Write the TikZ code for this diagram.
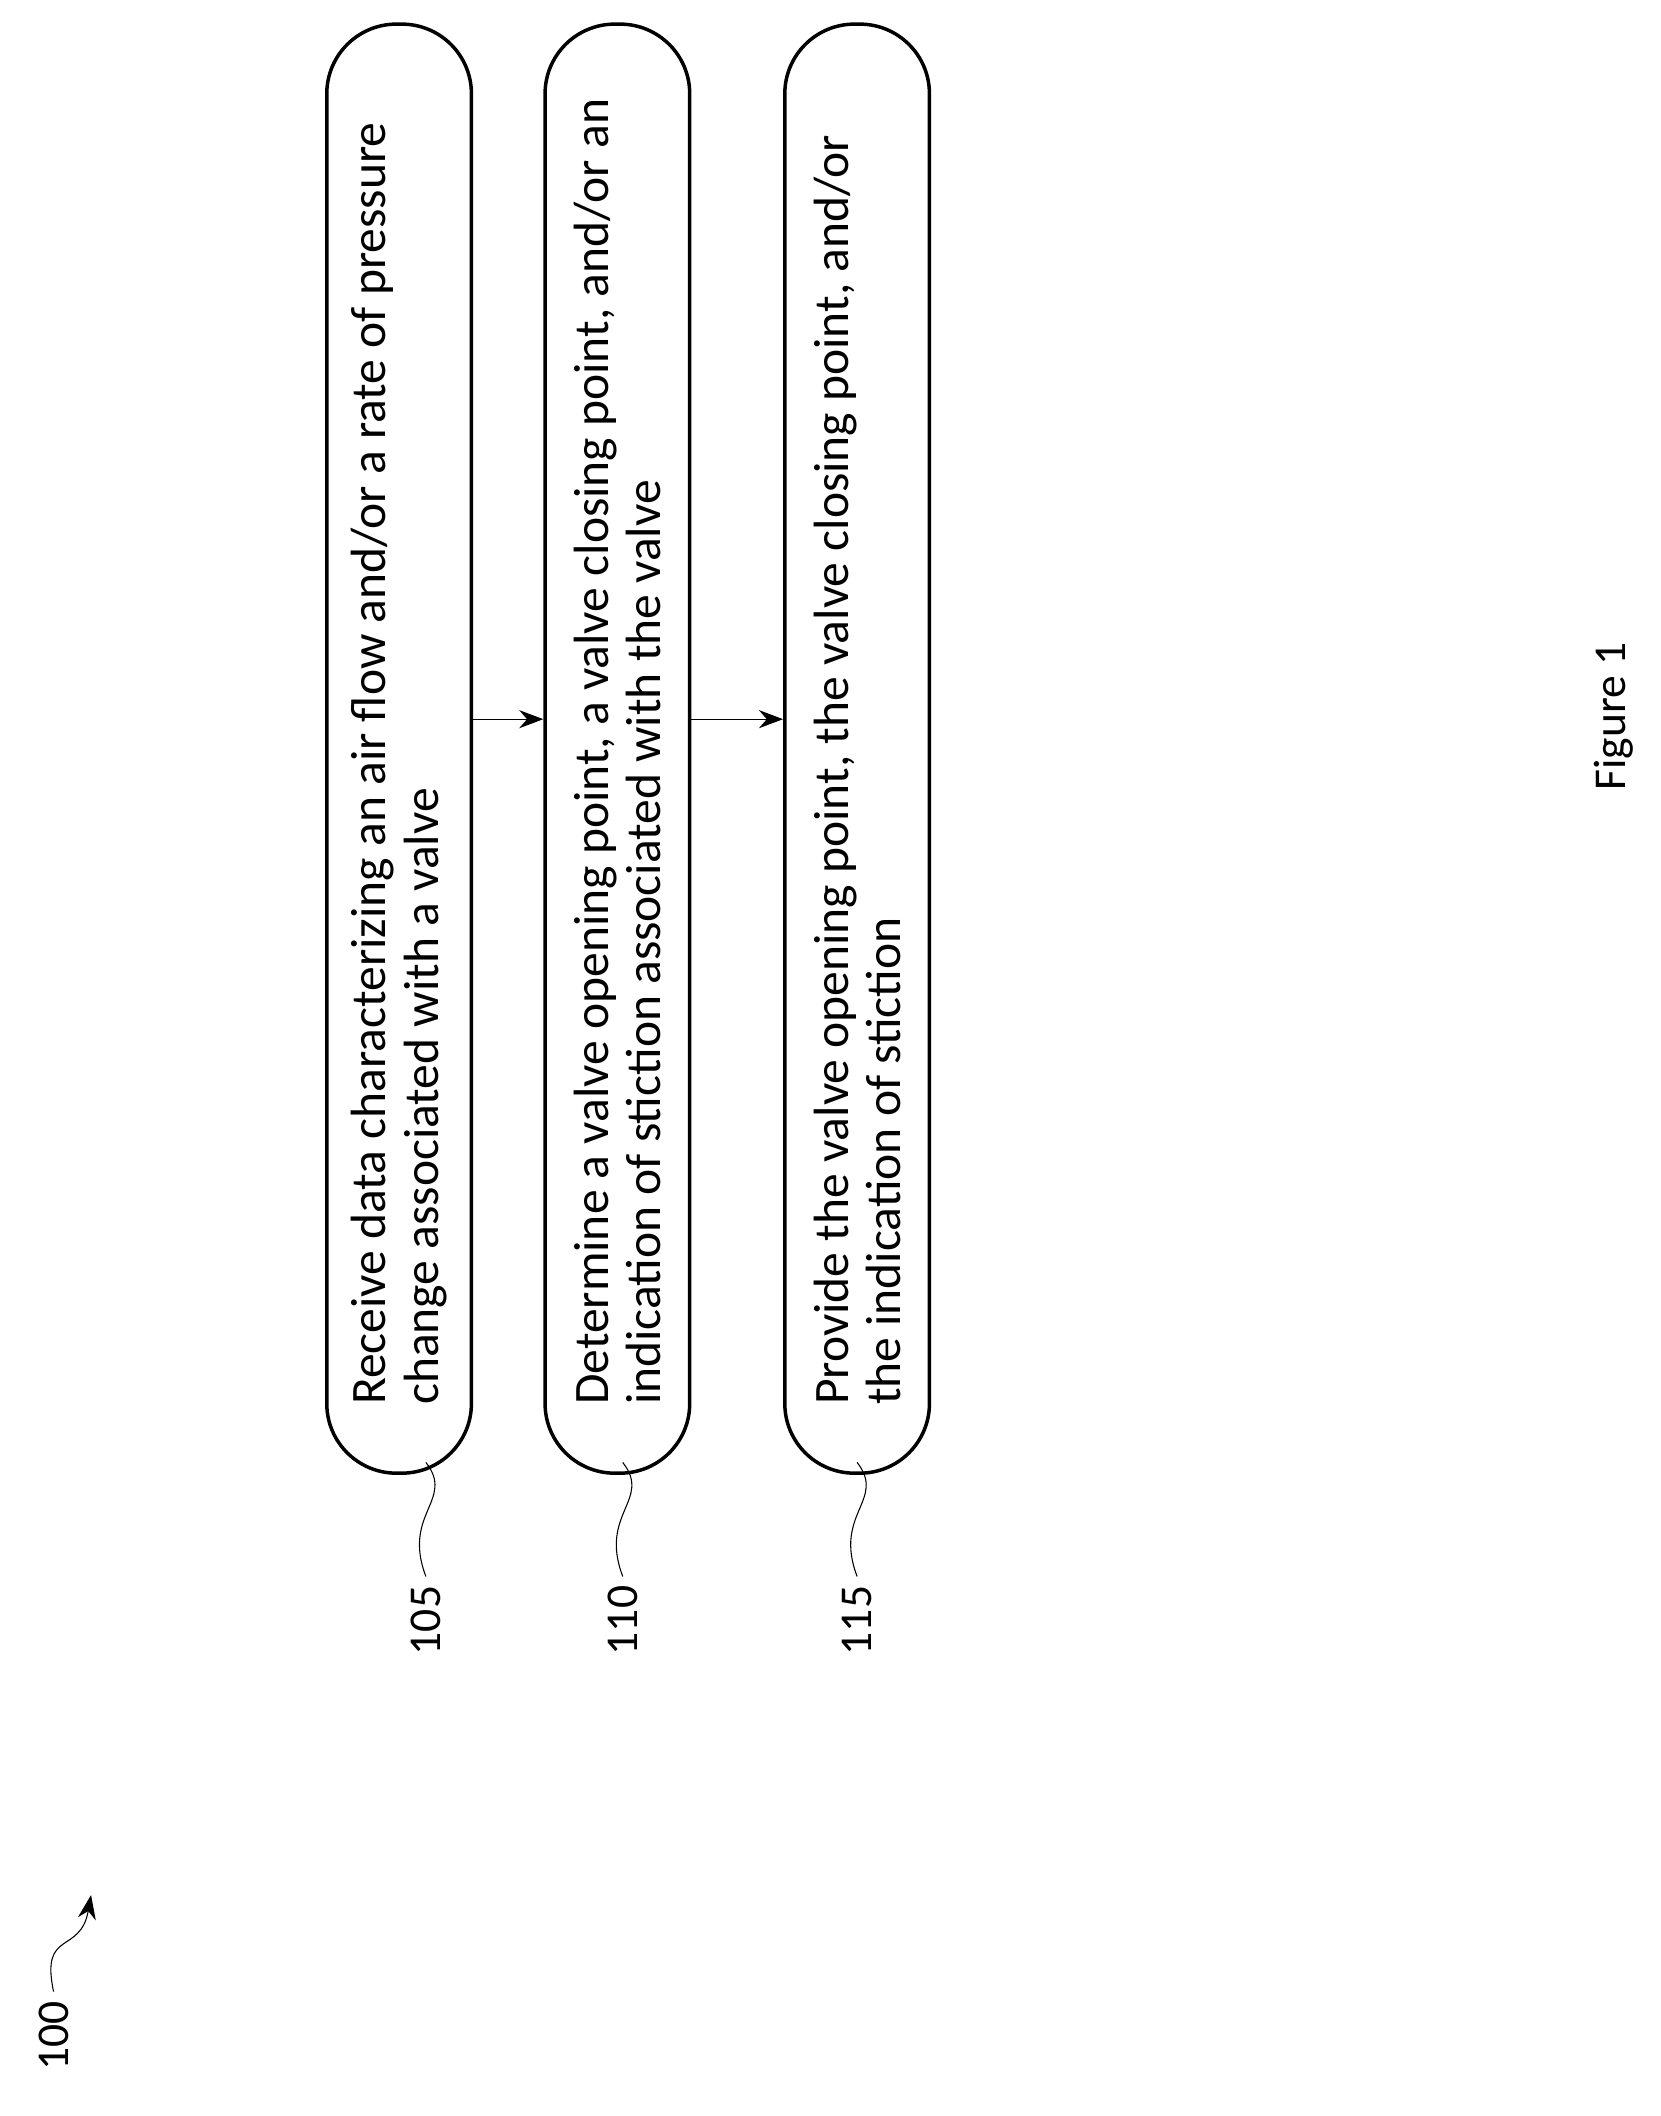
\documentclass[tikz,border=0pt]{standalone}
\usepackage{fontspec}
\setmainfont{Carlito}
\usepackage{tikz}
\usetikzlibrary{arrows.meta}
\tikzset{stepbox/.style={shape=rectangle, draw, line width=1.3pt, rounded corners=26pt, rotate=90, minimum width=541pt, minimum height=54pt, text width=490pt, align=flush left, inner sep=0pt, font=\fontsize{18.5}{19.5}\selectfont}}
\tikzset{reflabel/.style={rotate=90, font=\fontsize{17}{18}\selectfont}}

\begin{document}
\begin{tikzpicture}[x=0.5pt, y=-0.5pt]
\useasboundingbox (0,0) rectangle (1240,1580);
\node[stepbox] (s1) at (298,559) {Receive data characterizing an air flow and/or a rate of pressure\\ change associated with a valve};
\node[stepbox] (s2) at (461,559) {Determine a valve opening point, a valve closing point, and/or an\\ indication of stiction associated with the valve};
\node[stepbox] (s3) at (640,559) {Provide the valve opening point, the valve closing point, and/or\\ the indication of stiction};
\draw[-{Stealth[length=9pt]}] (s1.south |- 0,537) -- (s2.north |- 0,537);
\draw[-{Stealth[length=9pt]}] (s2.south |- 0,537) -- (s3.north |- 0,537);
\node[reflabel] (r105) at (318,1210) {105};
\node[reflabel] (r110) at (465,1210) {110};
\node[reflabel] (r115) at (640,1210) {115};
\draw (r105.east) .. controls (300,1130) and (340,1120) .. (318,1092);
\draw (r110.east) .. controls (447,1130) and (487,1120) .. (465,1092);
\draw (r115.east) .. controls (622,1130) and (662,1120) .. (640,1092);
\node[reflabel] (r100) at (40,1520) {100};
\coordinate (tip) at (68,1415);
\draw[-{Stealth[length=9pt]}] (r100.east) .. controls (30,1440) and (60,1460) .. (tip);
\node[reflabel] (fig) at (1205,535) {Figure 1};
\end{tikzpicture}
\end{document}
